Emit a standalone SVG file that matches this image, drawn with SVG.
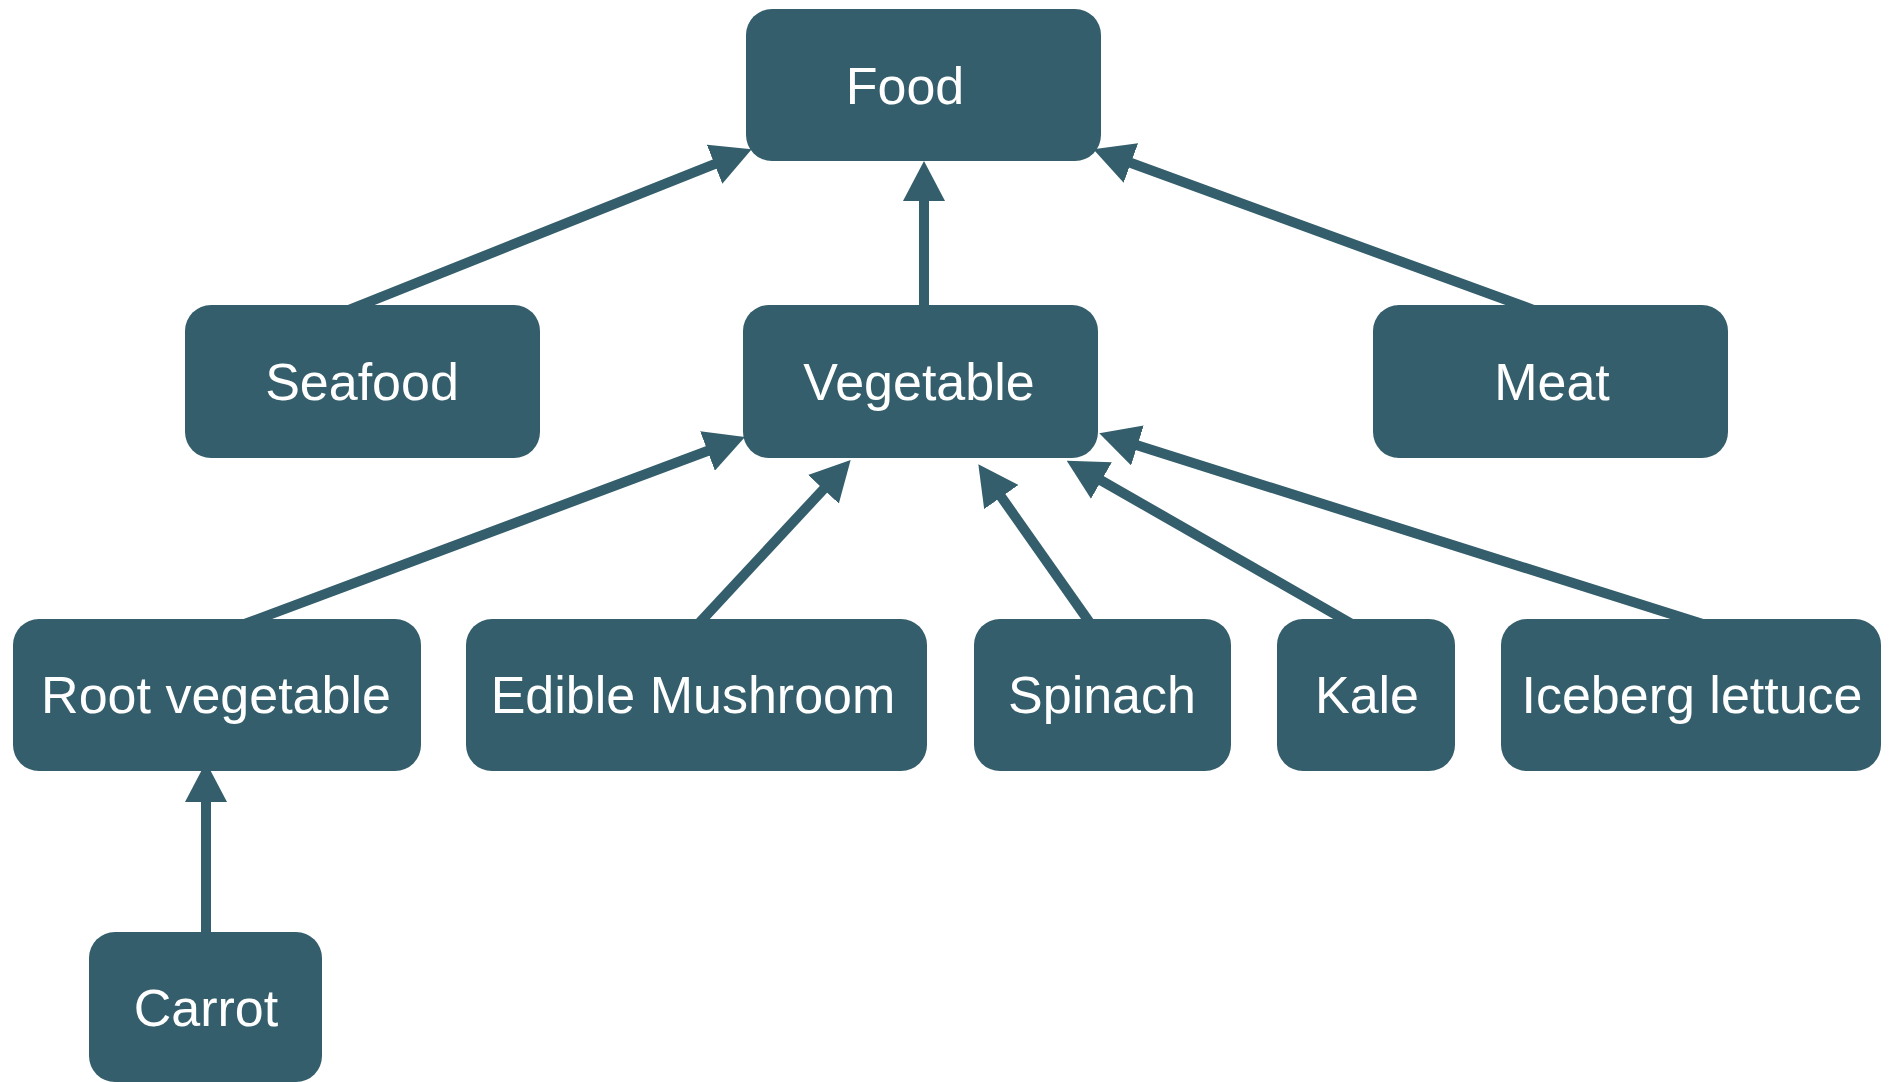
<svg xmlns="http://www.w3.org/2000/svg" width="1889" height="1082" viewBox="0 0 1889 1082">
  <style>
    .node rect { fill: #345e6b; }
    .node text { fill: #ffffff; font-family: "Liberation Sans", Arial, Helvetica, sans-serif; font-size: 52px; text-anchor: middle; }
    .edge { stroke: #345e6b; stroke-width: 10; fill: none; marker-end: url(#arrow); }
  </style>
  <defs>
    <marker id="arrow" markerUnits="userSpaceOnUse" viewBox="0 -21 40 42" markerWidth="40" markerHeight="42" refX="2" refY="0" orient="auto">
      <path d="M0,-21 L40,0 L0,21 Z" fill="#345e6b"/>
    </marker>
  </defs>

  <!-- connectors: child -> parent, starting just under the child box -->
  <g id="connectors">
    <line class="edge" x1="347.1" y1="310.6" x2="716.4" y2="163.4"/>
    <line class="edge" x1="924" y1="315" x2="924" y2="199"/>
    <line class="edge" x1="1534.1" y1="310.1" x2="1129" y2="162.3"/>
    <line class="edge" x1="243.9" y1="624.3" x2="709.4" y2="450.3"/>
    <line class="edge" x1="691.8" y1="631" x2="824.8" y2="487.8"/>
    <line class="edge" x1="1096.6" y1="632.3" x2="1000.2" y2="495.4"/>
    <line class="edge" x1="1358" y1="627.5" x2="1099.7" y2="479.6"/>
    <line class="edge" x1="1704.3" y1="624.5" x2="1135.5" y2="444.8"/>
    <line class="edge" x1="206" y1="942" x2="206" y2="800"/>
  </g>

  <!-- nodes -->
  <g id="food" class="node">
    <rect x="746" y="9" width="355" height="152" rx="26"/>
    <text x="905" y="104">Food</text>
  </g>
  <g id="seafood" class="node">
    <rect x="185" y="305" width="355" height="153" rx="26"/>
    <text x="362" y="400">Seafood</text>
  </g>
  <g id="vegetable" class="node">
    <rect x="743" y="305" width="355" height="153" rx="26"/>
    <text x="919" y="400">Vegetable</text>
  </g>
  <g id="meat" class="node">
    <rect x="1373" y="305" width="355" height="153" rx="26"/>
    <text x="1552" y="400">Meat</text>
  </g>
  <g id="root-vegetable" class="node">
    <rect x="13" y="619" width="408" height="152" rx="26"/>
    <text x="216" y="713">Root vegetable</text>
  </g>
  <g id="edible-mushroom" class="node">
    <rect x="466" y="619" width="461" height="152" rx="26"/>
    <text x="693" y="713">Edible Mushroom</text>
  </g>
  <g id="spinach" class="node">
    <rect x="974" y="619" width="257" height="152" rx="26"/>
    <text x="1102" y="713">Spinach</text>
  </g>
  <g id="kale" class="node">
    <rect x="1277" y="619" width="178" height="152" rx="26"/>
    <text x="1367" y="713">Kale</text>
  </g>
  <g id="iceberg-lettuce" class="node">
    <rect x="1501" y="619" width="380" height="152" rx="26"/>
    <text x="1692" y="713">Iceberg lettuce</text>
  </g>
  <g id="carrot" class="node">
    <rect x="89" y="932" width="233" height="150" rx="26"/>
    <text x="206" y="1026">Carrot</text>
  </g>
</svg>
